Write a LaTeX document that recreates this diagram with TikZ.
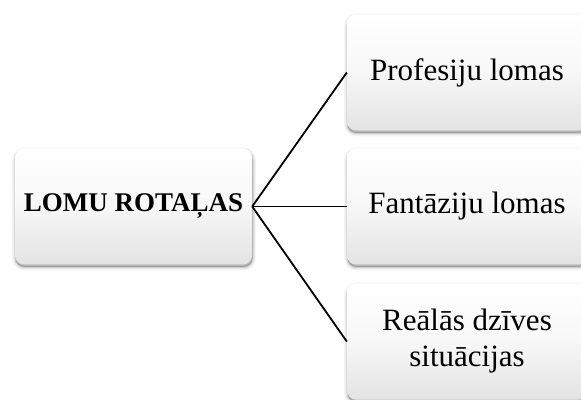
\documentclass[tikz,border=0pt]{standalone}
\usepackage{fontspec}
\setmainfont{Liberation Serif}
\usetikzlibrary{shadows}
\begin{document}
\begin{tikzpicture}[x=1pt,y=1pt,
  softshadow/.style={
    general shadow={shadow yshift=-2.5pt, shadow xshift=0.5pt, fill=black, draw=black, line width=7pt, opacity=0.04},
    general shadow={shadow yshift=-2.5pt, shadow xshift=0.5pt, fill=black, draw=black, line width=4.5pt, opacity=0.06},
    general shadow={shadow yshift=-2.5pt, shadow xshift=0.5pt, fill=black, draw=black, line width=2pt, opacity=0.12}},
  card/.style={rounded corners=9pt, minimum height=116pt, inner sep=0pt,
    top color=white, bottom color=black!11, middle color=white!97!black,
    align=center, softshadow},
  leftcard/.style={card, minimum width=237pt, font=\fontsize{27}{31}\selectfont\bfseries},
  rightcard/.style={card, minimum width=240pt, font=\fontsize{31}{36}\selectfont},
  link/.style={draw=black, line width=1.8pt}]
\useasboundingbox (0,0) rectangle (581,399);
\clip (0,0) rectangle (581,399);
\node[leftcard] (root) at (133.5,192.5) {LOMU ROTAĻAS};
\node[rightcard] (prof) at (467,326.5) {Profesiju lomas};
\node[rightcard] (fant) at (467,192.5) {Fantāziju lomas};
\node[rightcard] (real) at (467,57.5) {Reālās dzīves\\situācijas};
\draw[link] (root.east) -- (prof.west);
\draw[link] (root.east) -- (fant.west);
\draw[link] (root.east) -- (real.west);
\end{tikzpicture}
\end{document}
